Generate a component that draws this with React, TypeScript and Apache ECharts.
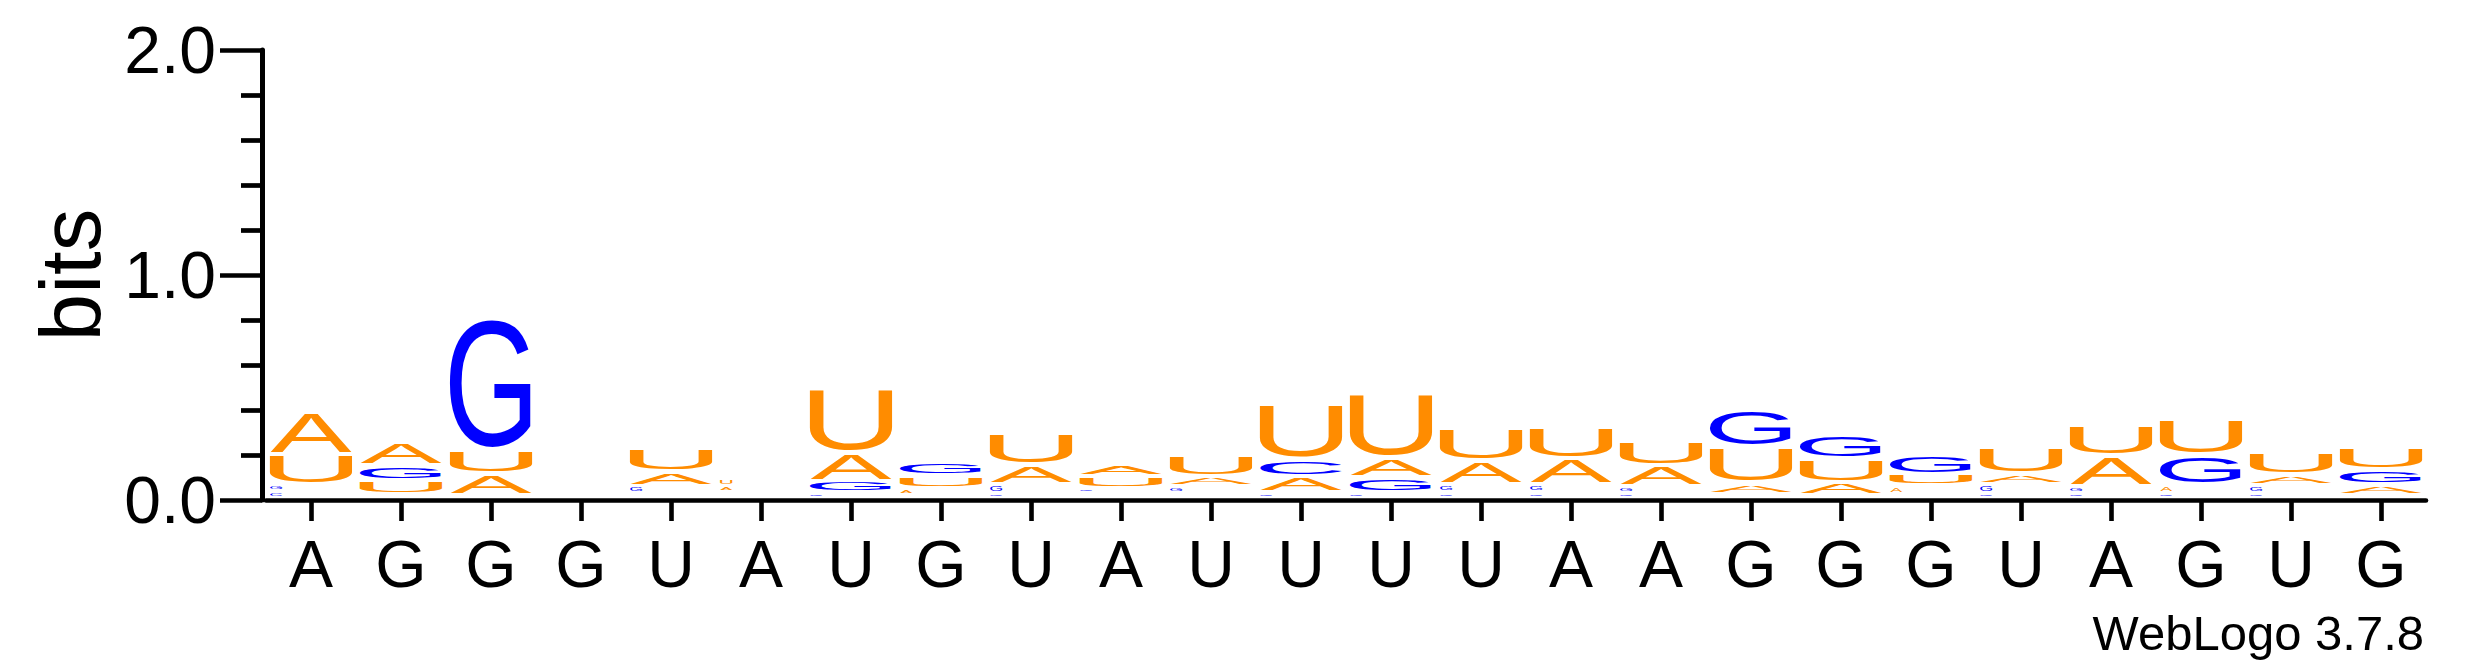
import { useEffect, useRef } from 'react';
import * as echarts from 'echarts';

// ---------- data ----------
const positions = ['A', 'G', 'G', 'G', 'U', 'A', 'U', 'G', 'U', 'A', 'U', 'U', 'U', 'U', 'A', 'A', 'G', 'G', 'G', 'U', 'A', 'G', 'U', 'G'];
const letters = ['A', 'C', 'G', 'U'];
const bitsA = [0.196, 0.104, 0.093, 0.019, 0.064, 0.028, 0.128, 0.030, 0.086, 0.055, 0.044, 0.073, 0.089, 0.107, 0.116, 0.093, 0.048, 0.059, 0.036, 0.049, 0.136, 0.037, 0.044, 0.048];
const bitsC = [0.030, 0.015, 0.015, 0.014, 0.020, 0.013, 0.025, 0.015, 0.022, 0.021, 0.020, 0.075, 0.025, 0.025, 0.025, 0.022, 0.019, 0.012, 0.019, 0.022, 0.022, 0.022, 0.022, 0.015];
const bitsG = [0.031, 0.067, 0.604, 0.015, 0.033, 0.014, 0.052, 0.062, 0.040, 0.023, 0.032, 0.025, 0.067, 0.035, 0.035, 0.032, 0.170, 0.109, 0.093, 0.040, 0.032, 0.136, 0.037, 0.064];
const bitsU = [0.136, 0.066, 0.110, 0.016, 0.108, 0.034, 0.295, 0.055, 0.145, 0.052, 0.095, 0.249, 0.292, 0.150, 0.141, 0.111, 0.163, 0.107, 0.052, 0.116, 0.138, 0.160, 0.101, 0.101];
const yMin = 0;
const yMax = 2;
const yInterval = 1;

// ---------- style ----------
const FONT = '"Liberation Sans", Arial, Helvetica, sans-serif';
const COLORS: Record<string, string> = { A: '#FF8C00', U: '#FF8C00', C: '#0000FF', G: '#0000FF' };
const GLYPH_FS = 100;
const CENTRAL = 0.347; // central baseline above alphabetic baseline (em)
// glyph ink boxes in em (x0, x1, y0, y1), y up from baseline
const GLYPH: Record<string, { x0: number; x1: number; y0: number; y1: number }> = {
  A: { x0: -0.0015, x1: 0.6685, y0: 0, y1: 0.716 },
  C: { x0: 0.05, x1: 0.683, y0: -0.012, y1: 0.728 },
  G: { x0: 0.053, x1: 0.715, y0: -0.012, y1: 0.728 },
  U: { x0: 0.079, x1: 0.642, y0: -0.012, y1: 0.716 },
};
const INK_RATIO = 0.905;
const LETTER_GAP = 4;
const TINY_INK = 5.5; // glyphs shorter than this are drawn small, at the stack's left
const TINY_WIDTH = 12;

const allBits = [bitsA, bitsC, bitsG, bitsU];

function buildStacks() {
  const out: number[][] = [];
  positions.forEach((_, i) => {
    const entries = letters.map((_, k) => ({ k, v: allBits[k][i] }));
    entries.sort((a, b) => a.v - b.v);
    let base = 0;
    for (const e of entries) {
      out.push([i, base, base + e.v, e.k]);
      base += e.v;
    }
  });
  return out;
}

function renderItem(_params: any, api: any) {
  const col = api.value(0);
  const y0 = api.value(1);
  const y1 = api.value(2);
  const letter = letters[api.value(3)];
  const pb = api.coord([col, y0]);
  const pt = api.coord([col, y1]);
  const band = api.size([1, 0])[0];
  const fullW = band * INK_RATIO;
  const top = pt[1];
  const bottom = pb[1] - LETTER_GAP;
  const inkH = bottom - top;
  if (inkH < 0.8) return null;
  const inkW = inkH < TINY_INK ? Math.min(fullW, TINY_WIDTH) : fullW;
  const m = GLYPH[letter];
  const sx = inkW / ((m.x1 - m.x0) * GLYPH_FS);
  const sy = inkH / ((m.y1 - m.y0) * GLYPH_FS);
  const left = pb[0] - fullW / 2;
  const X = left - m.x0 * GLYPH_FS * sx;
  const Y = top - (CENTRAL - m.y1) * GLYPH_FS * sy;
  return {
    type: 'text',
    x: X,
    y: Y,
    scaleX: sx,
    scaleY: sy,
    silent: true,
    style: {
      text: letter,
      font: `${GLYPH_FS}px ${FONT}`,
      fill: COLORS[letter],
      align: 'left',
      verticalAlign: 'middle',
      textAlign: 'left',
      textVerticalAlign: 'middle',
    },
  };
}

export default function App() {
  const ref = useRef<HTMLDivElement>(null);
  useEffect(() => {
    document.body.style.margin = '0';
    if (!ref.current) return;
    const chart = echarts.init(ref.current, undefined, { renderer: 'svg' });
    chart.setOption({
      animation: false,
      backgroundColor: '#ffffff',
      grid: { left: 266, right: 49, top: 50, bottom: 167, containLabel: false },
      xAxis: {
        type: 'category',
        data: positions,
        boundaryGap: true,
        axisLine: { show: true, lineStyle: { color: '#000', width: 4.6 } },
        axisTick: { show: true, alignWithLabel: true, length: 21, lineStyle: { color: '#000', width: 4.6 } },
        axisLabel: { interval: 0, fontSize: 66, fontFamily: FONT, color: '#000', margin: 31 },
        splitLine: { show: false },
      },
      yAxis: {
        type: 'value',
        min: yMin,
        max: yMax,
        interval: yInterval,
        offset: 4,
        axisLine: { show: true, lineStyle: { color: '#000', width: 5 } },
        axisTick: { show: true, length: 42, lineStyle: { color: '#000', width: 4.7 } },
        minorTick: { show: true, splitNumber: 5, length: 21, lineStyle: { color: '#000', width: 4.7 } },
        splitLine: { show: false },
        minorSplitLine: { show: false },
        axisLabel: {
          formatter: (v: number) => v.toFixed(1),
          fontSize: 66,
          fontFamily: FONT,
          color: '#000',
          margin: 46,
        },
      },
      series: [
        {
          type: 'custom',
          renderItem,
          data: buildStacks(),
          encode: { x: 0, y: [1, 2] },
          silent: true,
          clip: false,
        },
      ],
      graphic: [
        {
          type: 'text',
          x: 70.5,
          y: 275,
          rotation: Math.PI / 2,
          silent: true,
          style: {
            text: 'bits',
            font: `85px ${FONT}`,
            fill: '#000',
            align: 'center',
            verticalAlign: 'middle',
            textAlign: 'center',
            textVerticalAlign: 'middle',
          },
        },
        {
          type: 'text',
          x: 2424,
          y: 633,
          silent: true,
          style: {
            text: 'WebLogo 3.7.8',
            font: `49px ${FONT}`,
            fill: '#000',
            align: 'right',
            verticalAlign: 'middle',
            textAlign: 'right',
            textVerticalAlign: 'middle',
          },
        },
      ],
    });
    return () => chart.dispose();
  }, []);
  return (
    <div
      ref={ref}
      style={{ position: 'absolute', left: 0, top: 0, width: 2475, height: 667, background: '#fff' }}
    />
  );
}
